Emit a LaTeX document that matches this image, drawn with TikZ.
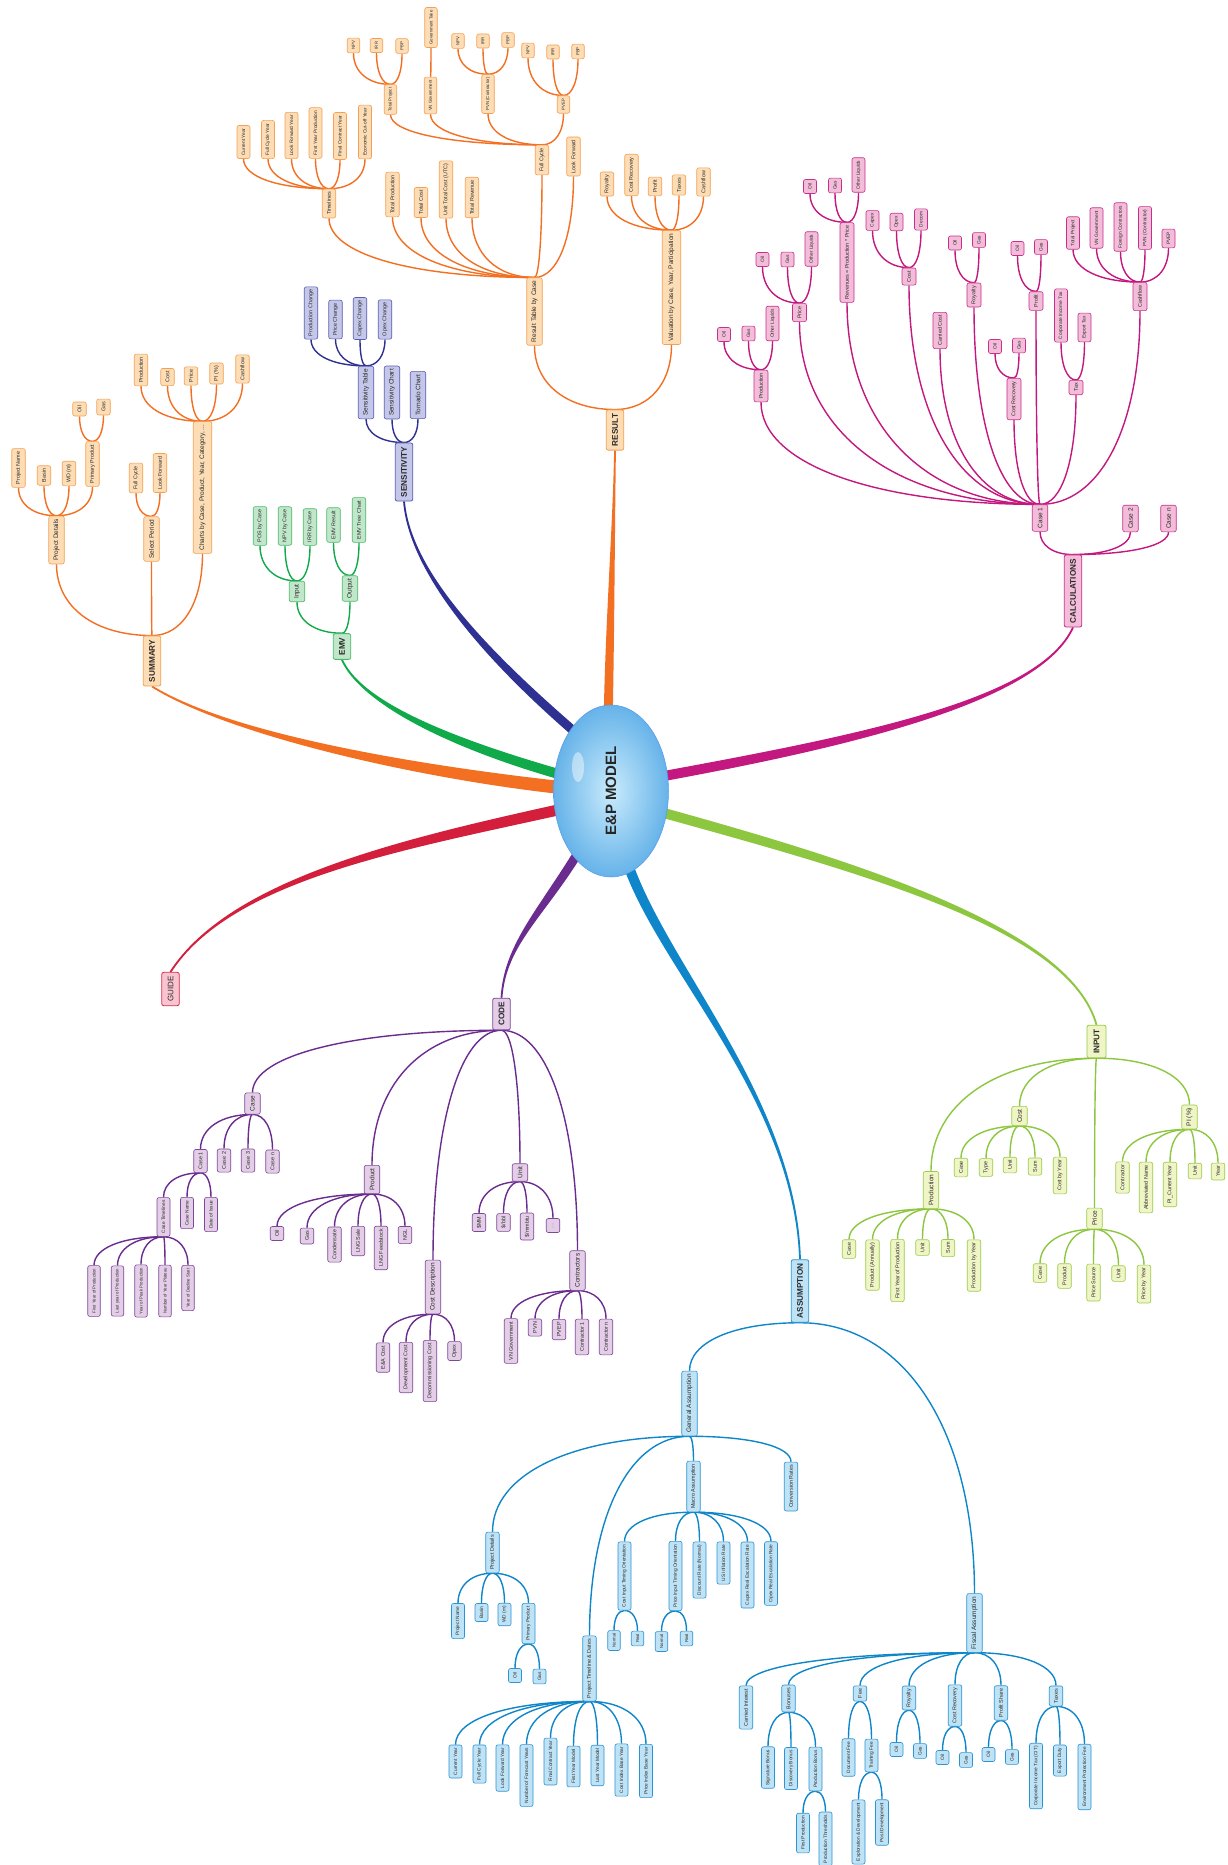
\documentclass[tikz,border=0pt]{standalone}
\usepackage{fontspec}
\setmainfont{Liberation Sans}
\usepackage{graphicx}
\usetikzlibrary{calc,shapes.geometric}
\pgfdeclarelayer{back}
\pgfdeclarelayer{bg}
\pgfsetlayers{back,bg,main}
\definecolor{orL}{HTML}{F36F21}\definecolor{orB}{HTML}{F4A055}\definecolor{orF}{HTML}{FDDDB5}
\definecolor{mgL}{HTML}{C3187F}\definecolor{mgB}{HTML}{C82F8C}\definecolor{mgF}{HTML}{F3BCD9}
\definecolor{nvL}{HTML}{2E3192}\definecolor{nvB}{HTML}{5A5DAD}\definecolor{nvF}{HTML}{C5C7EA}
\definecolor{grL}{HTML}{10AA4A}\definecolor{grB}{HTML}{4DB86A}\definecolor{grF}{HTML}{C1E7CB}
\definecolor{puL}{HTML}{6A2C8E}\definecolor{puB}{HTML}{7D4897}\definecolor{puF}{HTML}{E3CDE7}
\definecolor{ygL}{HTML}{8DC63F}\definecolor{ygB}{HTML}{9BCB4B}\definecolor{ygF}{HTML}{EFF5C5}
\definecolor{blL}{HTML}{0F86C9}\definecolor{blB}{HTML}{2E93D1}\definecolor{blF}{HTML}{BEE3F6}
\definecolor{rdL}{HTML}{D31F3B}\definecolor{rdB}{HTML}{D42C48}\definecolor{rdF}{HTML}{F9C3CF}
\definecolor{epI}{HTML}{C9EBFC}\definecolor{epO}{HTML}{66B3E9}
\definecolor{txt}{HTML}{2A2A2A}
\newcommand\fsA{\fontsize{4.3}{5}\selectfont}
\newcommand\fsB{\fontsize{4.8}{5.5}\selectfont}
\newcommand\fsC{\fontsize{5.4}{6}\selectfont}
\newcommand\fsD{\fontsize{6.5}{7}\selectfont}
\newcommand\fsM{\bfseries\fontsize{8.2}{9}\selectfont}
\newcommand\up[3]{\draw[#1] (#2.east) .. controls ($(#2.east)!0.6!(#2.east -| #3.west)$) and ($(#3.west)!0.6!(#3.west |- #2.east)$) .. (#3.west);}
\newcommand\dn[3]{\draw[#1] (#2.west) .. controls ($(#2.west)!0.6!(#2.west -| #3.east)$) and ($(#3.east)!0.6!(#3.east |- #2.west)$) .. (#3.east);}
\newcommand\mainbr[6]{%
 \path #2 coordinate (mS) #3 coordinate (mA) #4 coordinate (mB) #5 coordinate (mE);
 \path ($(mS)!#6!90:(mA)$) coordinate (mS1) ($(mS)!#6!-90:(mA)$) coordinate (mS2)
       ($(mE)!0.9pt!-90:(mB)$) coordinate (mE1) ($(mE)!0.9pt!90:(mB)$) coordinate (mE2);
 \fill[#1] (mS1) .. controls ($(mA)+(mS1)-(mS)$) and ($(mB)+(mE1)-(mE)$) .. (mE1)
   -- (mE2) .. controls ($(mB)+(mE2)-(mE)$) and ($(mA)+(mS2)-(mS)$) .. (mS2) -- cycle;}
\begin{document}
\begin{tikzpicture}[x=1pt,y=-1pt,
 nd/.style={rotate=90, draw, rounded corners=2pt, line width=0.6pt, inner xsep=3pt, inner ysep=0pt, minimum width=14pt, text=txt},
 L/.style={nd, font=\fsB, minimum height=13pt},
 LA/.style={nd, font=\fsA, minimum height=12.5pt},
 LC/.style={nd, font=\fsC, minimum height=13.5pt},
 M2/.style={nd, font=\fsC, minimum height=14pt},
 L1/.style={nd, font=\fsD, minimum height=15.5pt},
 MN/.style={nd, font=\fsM, minimum height=17.5pt, inner xsep=4pt, line width=0.8pt},
 cO/.style={draw=orB, fill=orF}, cM/.style={draw=mgB, fill=mgF}, cN/.style={draw=nvB, fill=nvF},
 cG/.style={draw=grB, fill=grF}, cP/.style={draw=puB, fill=puF}, cY/.style={draw=ygB, fill=ygF},
 cB/.style={draw=blB, fill=blF}, cR/.style={draw=rdB, fill=rdF},
 eO/.style={draw=orL, line width=1.4pt}, eM/.style={draw=mgL, line width=1.4pt},
 eN/.style={draw=nvL, line width=1.4pt}, eG/.style={draw=grL, line width=1.4pt},
 eP/.style={draw=puL, line width=1.4pt}, eY/.style={draw=ygL, line width=1.4pt},
 eB/.style={draw=blL, line width=1.4pt}]
\begin{pgfonlayer}{back}
\fill[white] (0,0) rectangle (1228,1865);
\end{pgfonlayer}
\useasboundingbox (0,0) rectangle (1228,1865);
% centre
\node[ellipse, minimum width=115pt, minimum height=172pt, shading=radial, inner color=epI, outer color=epO, draw=epO!85!blue, line width=0.5pt, text=black!85,
  path picture={\fill[white,opacity=0.45] ($(path picture bounding box.center)+(-33,-24)$) ellipse (6pt and 15pt);}] (ep) at (611,791) {\rotatebox{90}{\bfseries\fontsize{15}{16}\selectfont E\&P MODEL}};
% RESULT
\node[MN,cO] (res) at (615,430) {RESULT};
\node[L1,cO] (rtb) at (534.5,311.5) {Result Table by Case};
\node[L1,cO,minimum height=18.5pt] (val) at (671.5,287.5) {Valuation by Case, Year, Participation};
\node[LC,cO] (tl) at (329,203.5) {Timelines};
\node[L,cO] (tl1) at (243.5,142) {Current Year};
\node[L,cO] (tl2) at (268,139.5) {Full Cycle Year};
\node[L,cO] (tl3) at (291.5,135.5) {Look Forward Year};
\node[L,cO] (tl4) at (315.5,133) {First Year Production};
\node[L,cO] (tl5) at (340,136) {Final Contract Year};
\node[L,cO] (tl6) at (365,132) {Economic Cut-off Year};
\node[LC,cO] (tp) at (392.5,194.5) {Total Production};
\node[LC,cO] (tc) at (421,202.5) {Total Cost};
\node[LC,cO] (utc) at (446,189.5) {Unit Total Cost (UTC)};
\node[LC,cO] (tr) at (472,197.5) {Total Revenue};
\node[LC,cO] (fc) at (542,160) {Full Cycle};
\node[LC,cO] (lf) at (573.5,156.5) {Look Forward};
\node[LA,cO] (rtp) at (390.5,99.5) {Total Project};
\node[LA,cO] (rvn) at (430.5,95.5) {VN Government};
\node[LA,cO] (rpvn) at (488,94) {PVN (Contractor)};
\node[LA,cO] (rpe) at (563.5,104.5) {PVEP};
\node[LA,cO] (rgt) at (431,27.5) {Government Take};
\node[LA,cO] (r1a) at (353.5,45.5) {NPV};
\node[LA,cO] (r1b) at (376.5,45.5) {IRR};
\node[LA,cO] (r1c) at (402,46) {PBP};
\node[LA,cO] (r2a) at (458,41) {NPV};
\node[LA,cO] (r2b) at (483,41) {IRR};
\node[LA,cO] (r2c) at (508,40) {PBP};
\node[LA,cO] (r3a) at (528,50.5) {NPV};
\node[LA,cO] (r3b) at (553,52) {IRR};
\node[LA,cO] (r3c) at (578,51.5) {PBP};
\node[LC,cO] (vroy) at (607,184) {Royalty};
\node[LC,cO] (vcr) at (631.5,175) {Cost Recovery};
\node[LC,cO] (vpr) at (655,186.5) {Profit};
\node[LC,cO] (vtx) at (679,185) {Taxes};
\node[LC,cO] (vcf) at (703.5,182) {Cashflow};
% CALCULATIONS
\node[MN,cM] (calc) at (1073,591) {CALCULATIONS};
\node[L1,cM] (cs1) at (1040,518) {Case 1};
\node[L1,cM] (cs2) at (1130.5,518.5) {Case 2};
\node[L1,cM] (csn) at (1168.5,518.5) {Case n};
\node[M2,cM] (kprod) at (761,386) {Production};
\node[M2,cM] (kpri) at (799.5,312.5) {Price};
\node[M2,cM] (krev) at (847,262.5) {Revenues = Production * Price};
\node[M2,cM] (kcost) at (909,276.5) {Cost};
\node[M2,cM] (kcar) at (940,330.5) {Carried Cost};
\node[M2,cM] (kroy) at (974,295) {Royalty};
\node[M2,cM] (kcr) at (1014,399) {Cost Recovery};
\node[M2,cM] (kpf) at (1036,301) {Profit};
\node[M2,cM] (ktax) at (1076,387.5) {Tax};
\node[M2,cM] (kcf) at (1140,296.5) {Cashflow};
\node[L,cM] (kp1) at (724,334.5) {Oil};
\node[L,cM] (kp2) at (748.5,333.5) {Gas};
\node[L,cM] (kp3) at (772.5,323.5) {Other Liquids};
\node[L,cM] (ke1) at (762.5,259.5) {Oil};
\node[L,cM] (ke2) at (787.5,259.5) {Gas};
\node[L,cM] (ke3) at (811.5,249) {Other Liquids};
\node[L,cM] (kr1) at (810,186.5) {Oil};
\node[L,cM] (kr2) at (835,185.5) {Gas};
\node[L,cM] (kr3) at (858.5,175) {Other Liquids};
\node[L,cM] (kc1) at (872.5,220.5) {Capex};
\node[L,cM] (kc2) at (896.5,222) {Opex};
\node[L,cM] (kc3) at (921,219.5) {Decom};
\node[L,cM] (ky1) at (955,243) {Oil};
\node[L,cM] (ky2) at (979,240) {Gas};
\node[L,cM] (kq1) at (995,346.5) {Oil};
\node[L,cM] (kq2) at (1019,345.5) {Gas};
\node[L,cM] (kf1) at (1017.5,248.5) {Oil};
\node[L,cM] (kf2) at (1041,247) {Gas};
\node[L,cM] (kt1) at (1061,315.5) {Corporate Income Tax};
\node[L,cM] (kt2) at (1084.5,327.5) {Export Tax};
\node[L,cM] (kw1) at (1073,233) {Total Project};
\node[L,cM] (kw2) at (1096.5,228) {VN Government};
\node[L,cM] (kw3) at (1120.5,227) {Foreign Contractors};
\node[L,cM] (kw4) at (1145,228) {PVN (Contractor)};
\node[L,cM] (kw5) at (1168.5,238.5) {PVEP};
% SUMMARY
\node[MN,cO] (sum) at (152,661) {SUMMARY};
\node[L1,cO] (spd) at (56.5,540) {Project Details};
\node[L1,cO] (ssp) at (151.5,539) {Select Period};
\node[L1,cO,minimum height=18.5pt] (sch) at (202.5,487.5) {Charts by Case, Product, Year, Category, ...};
\node[LC,cO] (s1) at (18.5,468) {Project Name};
\node[LC,cO] (s2) at (44,475.5) {Basin};
\node[LC,cO] (s3) at (69,473.5) {WD (m)};
\node[LC,cO] (s4) at (92.5,464) {Primary Product};
\node[LC,cO] (s5) at (79.5,409) {Oil};
\node[LC,cO] (s6) at (103.5,407) {Gas};
\node[LC,cO] (s7) at (136,478) {Full Cycle};
\node[LC,cO] (s8) at (160,473) {Look Forward};
\node[LC,cO] (s9) at (141,370) {Production};
\node[LC,cO] (s10) at (167.5,377) {Cost};
\node[LC,cO] (s11) at (191,376) {Price};
\node[LC,cO] (s12) at (216.5,373.5) {PI (\%)};
\node[LC,cO] (s13) at (242.5,369) {Cashflow};
% SENSITIVITY
\node[MN,cN] (sen) at (404,472) {SENSITIVITY};
\node[L1,cN] (stb) at (366,392.5) {Sensitivity Table};
\node[L1,cN] (sct) at (392,392.5) {Sensitivity Chart};
\node[L1,cN] (sto) at (418,395) {Tornado Chart};
\node[LC,cN] (sv1) at (311,313) {Production Change};
\node[LC,cN] (sv2) at (335.5,319.5) {Price Change};
\node[LC,cN] (sv3) at (360,318.5) {Capex Change};
\node[LC,cN] (sv4) at (385,319.5) {Opex Change};
% EMV
\node[MN,cG] (emv) at (342,646.5) {EMV};
\node[L1,cG] (ein) at (297,591.5) {Input};
\node[L1,cG] (eout) at (350,588.5) {Output};
\node[LC,cG] (em1) at (260,526) {POS by Case};
\node[LC,cG] (em2) at (285,526) {NPV by Case};
\node[LC,cG] (em3) at (310,527) {IRR by Case};
\node[LC,cG] (em4) at (333.5,525) {EMV Result};
\node[LC,cG] (em5) at (359,520) {EMV Tree Chart};
% GUIDE
\node[MN,cR,font=\fontsize{8}{9}\selectfont] (guide) at (170.5,989) {GUIDE};
% CODE
\node[MN,cP] (code) at (501.5,1014) {CODE};
\node[L1,cP] (ca) at (252.5,1103.5) {Case};
\node[LC,cP] (ca1) at (200.5,1161) {Case 1};
\node[LC,cP] (ca2) at (224,1160.5) {Case 2};
\node[LC,cP] (ca3) at (248,1160.5) {Case 3};
\node[LC,cP] (can) at (272.5,1161.5) {Case n};
\node[L,cP] (ct) at (163.5,1217) {Case Timelines};
\node[L,cP] (cn) at (187,1213) {Case Name};
\node[L,cP] (cdi) at (211,1214.5) {Date of Issue};
\node[LA,cP] (ct1) at (94,1291) {First Year of Production};
\node[LA,cP] (ct2) at (117.5,1291) {Last year of Production};
\node[LA,cP] (ct3) at (141,1291) {Year of Peak Production};
\node[LA,cP] (ct4) at (165,1291) {Number of Year Plateau};
\node[LA,cP] (ct5) at (188,1288) {Year of Decline Start};
\node[L1,cP] (cpr) at (372,1179.5) {Product};
\node[LC,cP] (cp1) at (277,1233.5) {Oil};
\node[LC,cP] (cp2) at (307,1236) {Gas};
\node[LC,cP] (cp3) at (334.5,1244.5) {Condensate};
\node[LC,cP] (cp4) at (358,1241) {LNG Sale};
\node[LC,cP] (cp5) at (381,1248) {LNG Feedstock};
\node[LC,cP] (cp6) at (405,1235) {NGL};
\node[L1,cP] (ccd) at (433,1287) {Cost Description};
\node[LC,cP] (cd1) at (383,1357.5) {E\&A Cost};
\node[LC,cP] (cd2) at (406,1367.5) {Development Cost};
\node[LC,cP] (cd3) at (430,1371) {Decommissioning Cost};
\node[LC,cP] (cd4) at (454.5,1351) {Opex};
\node[L1,cP] (cun) at (520,1172.5) {Unit};
\node[LC,cP] (cu1) at (479,1222.5) {\$MM};
\node[LC,cP] (cu2) at (503.5,1222.5) {\$/bbl};
\node[LC,cP] (cu3) at (527,1226.5) {\$/mmbtu};
\node[LC,cP,text=black!40] (cu4) at (553,1225.5) {....};
\node[L1,cP] (cco) at (577.5,1270.5) {Contractors};
\node[LC,cP] (co1) at (511,1341) {VN Government};
\node[LC,cP] (co2) at (535,1327.5) {PVN};
\node[LC,cP] (co3) at (559,1329.5) {PVEP};
\node[LC,cP] (co4) at (582,1337) {Contractor 1};
\node[LC,cP] (co5) at (606,1337) {Contractor n};
% INPUT
\node[MN,cY,minimum height=19pt] (inp) at (1096.5,1041.5) {INPUT};
\node[L1,cY] (ico) at (1019.5,1116) {Cost};
\node[LC,cY] (ic1) at (961,1167.5) {Case};
\node[LC,cY] (ic2) at (986,1167.5) {Type};
\node[LC,cY] (ic3) at (1010,1165) {Unit};
\node[LC,cY] (ic4) at (1035,1166.5) {Sum};
\node[LC,cY] (ic5) at (1060,1175.5) {Cost by Year};
\node[L1,cY] (ipi) at (1189.5,1117) {PI (\%)};
\node[LC,cY] (ip1) at (1122.5,1177.5) {Contractor};
\node[LC,cY] (ip2) at (1146,1187.5) {Abbreviated Name};
\node[LC,cY] (ip3) at (1170,1184.5) {PI\_Current Year};
\node[LC,cY] (ip4) at (1195,1171) {Unit};
\node[LC,cY] (ip5) at (1218,1171.5) {Year};
\node[L1,cY] (ipr) at (931,1190) {Production};
\node[LC,cY] (ir1) at (849,1249) {Case};
\node[LC,cY] (ir2) at (872.5,1265) {Product (Annually)};
\node[LC,cY] (ir3) at (897.5,1270.5) {First Year of Production};
\node[LC,cY] (ir4) at (922.5,1247.5) {Unit};
\node[LC,cY] (ir5) at (948,1248) {Sum};
\node[LC,cY] (ir6) at (974,1265.5) {Production by Year};
\node[L1,cY] (ipc) at (1094.5,1218.5) {Price};
\node[LC,cY] (ie1) at (1040,1273) {Case};
\node[LC,cY] (ie2) at (1064.5,1276) {Product};
\node[LC,cY] (ie3) at (1093.5,1282.5) {Price Source};
\node[LC,cY] (ie4) at (1118.5,1273.5) {Unit};
\node[LC,cY] (ie5) at (1144,1284) {Price by Year};
% ASSUMPTION
\node[MN,cB] (asm) at (800,1291) {ASSUMPTION};
\node[L1,cB] (aga) at (689.5,1403.5) {General Assumption};
\node[LC,cB] (apd) at (492.5,1552.5) {Project Details};
\node[L,cB] (ap1) at (458,1621) {Project Name};
\node[L,cB] (ap2) at (481.5,1612.5) {Basin};
\node[L,cB] (ap3) at (504.5,1614.5) {WD (m)};
\node[L,cB] (ap4) at (528.5,1623.5) {Primary Product};
\node[L,cB] (ap5) at (515,1675.5) {Oil};
\node[L,cB] (ap6) at (539.5,1676.5) {Gas};
\node[LC,cB] (apt) at (589.5,1668.5) {Project Timeline \& Dates};
\node[L,cB] (at1) at (455.5,1761.5) {Current Year};
\node[L,cB] (at2) at (479.5,1764) {Full Cycle Year};
\node[L,cB] (at3) at (502.5,1768) {Look Forward Year};
\node[L,cB] (at4) at (526.5,1775.5) {Number of Forecast Years};
\node[L,cB] (at5) at (550.5,1761.5) {Final Contract Year};
\node[L,cB] (at6) at (573.5,1766.5) {First Year Model};
\node[L,cB] (at7) at (597.5,1765.5) {Last Year Model};
\node[L,cB] (at8) at (621.5,1770) {Cost Index Base Year};
\node[L,cB] (at9) at (646,1771) {Price Index Base Year};
\node[LC,cB] (amc) at (693.5,1486.5) {Macro Assumption};
\node[L,cB] (am1) at (624.5,1576) {Cost Input Timing Orientation};
\node[L,cB] (am2) at (675.5,1576) {Price Input Timing Orientation};
\node[L,cB] (am3) at (699.5,1570) {Discount Rate (Normal)};
\node[L,cB] (am4) at (723.5,1563) {US Inflation Rate};
\node[L,cB] (am5) at (747.5,1575) {Capex Real Escalation Rate};
\node[L,cB] (am6) at (771,1573.5) {Opex Real Escalation Rate};
\node[LA,cB] (am7) at (614,1640.5) {Normal};
\node[LA,cB] (am8) at (637.5,1638.5) {Real};
\node[LA,cB] (am9) at (661.5,1641.5) {Normal};
\node[LA,cB] (am10) at (686.5,1638.5) {Real};
\node[LC,cB] (acr) at (791,1486.5) {Conversion Rates};
\node[L1,cB] (afa) at (974.5,1623) {Fiscal Assumption};
\node[LC,cB] (af1) at (746,1707.5) {Carried Interest};
\node[LC,cB] (af2) at (788.5,1698.5) {Bonuses};
\node[LC,cB] (af3) at (860,1693.5) {Fee};
\node[LC,cB] (af4) at (909,1698) {Royalty};
\node[LC,cB] (af5) at (955,1705.5) {Cost Recovery};
\node[LC,cB] (af6) at (1001,1703) {Profit Share};
\node[LC,cB] (af7) at (1056,1696) {Taxes};
\node[L,cB] (ab1) at (768,1767.5) {Signature Bonus};
\node[L,cB] (ab2) at (791,1768.5) {Discovery Bonus};
\node[L,cB] (ab3) at (815.5,1769) {Production Bonus};
\node[L,cB] (ab4) at (803,1833) {First Production};
\node[L,cB] (ab5) at (825.5,1839) {Production Thresholds};
\node[L,cB] (fe1) at (848.5,1757.5) {Document Fee};
\node[L,cB] (fe2) at (871.5,1755.5) {Training Fee};
\node[L,cB] (fe3) at (858.5,1832) {Exploration \& Development};
\node[L,cB] (fe4) at (882,1822.5) {Post-Development};
\node[L,cB] (fr1) at (896.5,1749.5) {Oil};
\node[L,cB] (fr2) at (920,1751) {Gas};
\node[L,cB] (fq1) at (942.5,1757.5) {Oil};
\node[L,cB] (fq2) at (966,1760) {Gas};
\node[L,cB] (fs1) at (988.5,1754.5) {Oil};
\node[L,cB] (fs2) at (1012,1757) {Gas};
\node[L,cB] (ft1) at (1036,1776) {Corporate Income Tax (CIT)};
\node[L,cB] (ft2) at (1060,1760.5) {Export Duty};
\node[L,cB] (ft3) at (1084.5,1777) {Environment Protection Fee};
% ===== connectors =====
\begin{pgfonlayer}{bg}
\mainbr{orL}{($(ep.center)!0.9!(ep.176)$)}{(420,772)}{(230,735)}{(sum.west)}{6.5pt}
\mainbr{grL}{($(ep.center)!0.9!(ep.162)$)}{(440,740)}{(360,700)}{(emv.west)}{5pt}
\mainbr{nvL}{($(ep.center)!0.9!(ep.121)$)}{(480,650)}{(410,570)}{(sen.west)}{4.5pt}
\mainbr{orL}{($(ep.center)!0.9!(ep.92)$)}{(610,620)}{(614,520)}{(res.west)}{4.5pt}
\mainbr{rdL}{($(ep.center)!0.9!(ep.200)$)}{(400,845)}{(230,880)}{(guide.east)}{5.5pt}
\mainbr{puL}{($(ep.center)!0.9!(ep.242)$)}{(540,915)}{(505,945)}{(code.east)}{4.5pt}
\mainbr{blL}{($(ep.center)!0.9!(ep.283)$)}{(665,970)}{(795,1100)}{(asm.east)}{5pt}
\mainbr{mgL}{($(ep.center)!0.9!(ep.16)$)}{(860,740)}{(1040,700)}{(calc.west)}{5pt}
\mainbr{ygL}{($(ep.center)!0.9!(ep.337)$)}{(870,870)}{(1070,930)}{(inp.east)}{5pt}
% RESULT
\foreach \c in {rtb,val} {\up{eO}{res}{\c}}
\foreach \c in {tl,tp,tc,utc,tr,fc,lf} {\up{eO}{rtb}{\c}}
\foreach \c in {tl1,tl2,tl3,tl4,tl5,tl6} {\up{eO}{tl}{\c}}
\foreach \c in {rtp,rvn,rpvn,rpe} {\up{eO}{fc}{\c}}
\foreach \c in {r1a,r1b,r1c} {\up{eO}{rtp}{\c}}
\up{eO}{rvn}{rgt}
\foreach \c in {r2a,r2b,r2c} {\up{eO}{rpvn}{\c}}
\foreach \c in {r3a,r3b,r3c} {\up{eO}{rpe}{\c}}
\foreach \c in {vroy,vcr,vpr,vtx,vcf} {\up{eO}{val}{\c}}
% CALC
\foreach \c in {cs1,cs2,csn} {\up{eM}{calc}{\c}}
\foreach \c in {kprod,kpri,krev,kcost,kcar,kroy,kcr,kpf,ktax,kcf} {\up{eM}{cs1}{\c}}
\foreach \c in {kp1,kp2,kp3} {\up{eM}{kprod}{\c}}
\foreach \c in {ke1,ke2,ke3} {\up{eM}{kpri}{\c}}
\foreach \c in {kr1,kr2,kr3} {\up{eM}{krev}{\c}}
\foreach \c in {kc1,kc2,kc3} {\up{eM}{kcost}{\c}}
\foreach \c in {ky1,ky2} {\up{eM}{kroy}{\c}}
\foreach \c in {kq1,kq2} {\up{eM}{kcr}{\c}}
\foreach \c in {kf1,kf2} {\up{eM}{kpf}{\c}}
\foreach \c in {kt1,kt2} {\up{eM}{ktax}{\c}}
\foreach \c in {kw1,kw2,kw3,kw4,kw5} {\up{eM}{kcf}{\c}}
% SUMMARY
\foreach \c in {spd,ssp,sch} {\up{eO}{sum}{\c}}
\foreach \c in {s1,s2,s3,s4} {\up{eO}{spd}{\c}}
\foreach \c in {s5,s6} {\up{eO}{s4}{\c}}
\foreach \c in {s7,s8} {\up{eO}{ssp}{\c}}
\foreach \c in {s9,s10,s11,s12,s13} {\up{eO}{sch}{\c}}
% SENSITIVITY
\foreach \c in {stb,sct,sto} {\up{eN}{sen}{\c}}
\foreach \c in {sv1,sv2,sv3,sv4} {\up{eN}{stb}{\c}}
% EMV
\foreach \c in {ein,eout} {\up{eG}{emv}{\c}}
\foreach \c in {em1,em2,em3} {\up{eG}{ein}{\c}}
\foreach \c in {em4,em5} {\up{eG}{eout}{\c}}
% CODE
\foreach \c in {ca,cpr,ccd,cun,cco} {\dn{eP}{code}{\c}}
\foreach \c in {ca1,ca2,ca3,can} {\dn{eP}{ca}{\c}}
\foreach \c in {ct,cn,cdi} {\dn{eP}{ca1}{\c}}
\foreach \c in {ct1,ct2,ct3,ct4,ct5} {\dn{eP}{ct}{\c}}
\foreach \c in {cp1,cp2,cp3,cp4,cp5,cp6} {\dn{eP}{cpr}{\c}}
\foreach \c in {cd1,cd2,cd3,cd4} {\dn{eP}{ccd}{\c}}
\foreach \c in {cu1,cu2,cu3,cu4} {\dn{eP}{cun}{\c}}
\foreach \c in {co1,co2,co3,co4,co5} {\dn{eP}{cco}{\c}}
% INPUT
\foreach \c in {ipr,ico,ipc,ipi} {\dn{eY}{inp}{\c}}
\foreach \c in {ic1,ic2,ic3,ic4,ic5} {\dn{eY}{ico}{\c}}
\foreach \c in {ip1,ip2,ip3,ip4,ip5} {\dn{eY}{ipi}{\c}}
\foreach \c in {ir1,ir2,ir3,ir4,ir5,ir6} {\dn{eY}{ipr}{\c}}
\foreach \c in {ie1,ie2,ie3,ie4,ie5} {\dn{eY}{ipc}{\c}}
% ASSUMPTION
\foreach \c in {aga,afa} {\dn{eB}{asm}{\c}}
\foreach \c in {apd,apt,amc,acr} {\dn{eB}{aga}{\c}}
\foreach \c in {ap1,ap2,ap3,ap4} {\dn{eB}{apd}{\c}}
\foreach \c in {ap5,ap6} {\dn{eB}{ap4}{\c}}
\foreach \c in {at1,at2,at3,at4,at5,at6,at7,at8,at9} {\dn{eB}{apt}{\c}}
\foreach \c in {am1,am2,am3,am4,am5,am6} {\dn{eB}{amc}{\c}}
\foreach \c in {am7,am8} {\dn{eB}{am1}{\c}}
\foreach \c in {am9,am10} {\dn{eB}{am2}{\c}}
\foreach \c in {af1,af2,af3,af4,af5,af6,af7} {\dn{eB}{afa}{\c}}
\foreach \c in {ab1,ab2,ab3} {\dn{eB}{af2}{\c}}
\foreach \c in {ab4,ab5} {\dn{eB}{ab3}{\c}}
\foreach \c in {fe1,fe2} {\dn{eB}{af3}{\c}}
\foreach \c in {fe3,fe4} {\dn{eB}{fe2}{\c}}
\foreach \c in {fr1,fr2} {\dn{eB}{af4}{\c}}
\foreach \c in {fq1,fq2} {\dn{eB}{af5}{\c}}
\foreach \c in {fs1,fs2} {\dn{eB}{af6}{\c}}
\foreach \c in {ft1,ft2,ft3} {\dn{eB}{af7}{\c}}
\end{pgfonlayer}
\end{tikzpicture}
\end{document}
